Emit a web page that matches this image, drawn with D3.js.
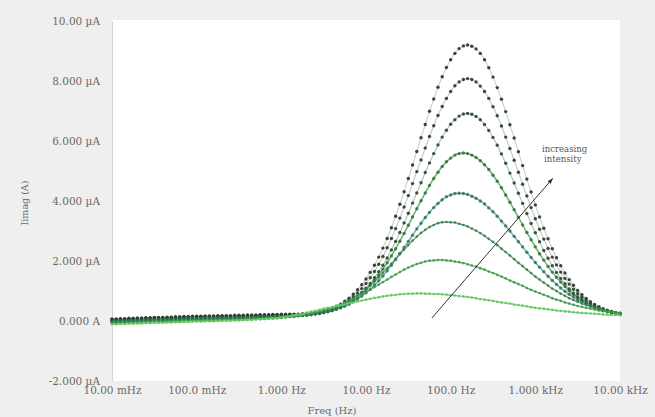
<!DOCTYPE html>
<html><head><meta charset="utf-8">
<script src="https://cdn.jsdelivr.net/npm/d3@7"></script>
<style>
html,body{margin:0;padding:0;background:#efefef;}
svg{display:block;}
</style></head><body>
<svg id="chart" width="655" height="417"></svg>
<script>
// Frequencies (Hz), 20 points per decade
const freqs = [
0.01,0.01122,0.01259,0.01413,0.01585,0.01778,0.01995,0.02239,0.02512,0.02818,0.03162,0.03548,0.03981,0.04467,0.05012,0.05623,0.0631,0.07079,0.07943,0.08913,
0.1,0.1122,0.1259,0.1413,0.1585,0.1778,0.1995,0.2239,0.2512,0.2818,0.3162,0.3548,0.3981,0.4467,0.5012,0.5623,0.631,0.7079,0.7943,0.8913,
1,1.122,1.259,1.413,1.585,1.778,1.995,2.239,2.512,2.818,3.162,3.548,3.981,4.467,5.012,5.623,6.31,7.079,7.943,8.913,
10,11.22,12.59,14.13,15.85,17.78,19.95,22.39,25.12,28.18,31.62,35.48,39.81,44.67,50.12,56.23,63.1,70.79,79.43,89.13,
100,112.2,125.9,141.3,158.5,177.8,199.5,223.9,251.2,281.8,316.2,354.8,398.1,446.7,501.2,562.3,631,707.9,794.3,891.3,
1000,1122,1259,1413,1585,1778,1995,2239,2512,2818,3162,3548,3981,4467,5012,5623,6310,7079,7943,8913,
10000];

// Iimag values in µA, highest intensity first
const s1 = [0.07,0.07,0.08,0.08,0.09,0.09,0.10,0.10,0.11,0.11,
0.12,0.12,0.12,0.13,0.13,0.14,0.14,0.15,0.15,0.16,
0.16,0.16,0.17,0.17,0.17,0.18,0.18,0.18,0.18,0.19,
0.19,0.19,0.20,0.20,0.20,0.21,0.21,0.21,0.22,0.22,
0.23,0.23,0.23,0.23,0.23,0.24,0.24,0.26,0.27,0.29,
0.32,0.37,0.42,0.49,0.56,0.66,0.76,0.89,1.04,1.21,
1.40,1.62,1.86,2.13,2.43,2.75,3.11,3.49,3.89,4.31,
4.75,5.20,5.65,6.11,6.55,6.99,7.40,7.79,8.14,8.45,
8.71,8.92,9.08,9.17,9.20,9.16,9.07,8.92,8.71,8.44,
8.13,7.78,7.39,6.98,6.54,6.10,5.64,5.18,4.73,4.30,
3.87,3.47,3.09,2.74,2.41,2.11,1.84,1.60,1.38,1.19,
1.02,0.88,0.75,0.64,0.55,0.48,0.41,0.36,0.32,0.28,
0.25];
const s2 = [0.05,0.05,0.06,0.06,0.07,0.07,0.08,0.08,0.09,0.09,
0.10,0.10,0.10,0.11,0.11,0.12,0.12,0.13,0.13,0.14,
0.14,0.14,0.15,0.15,0.15,0.16,0.16,0.16,0.16,0.17,
0.17,0.17,0.18,0.18,0.18,0.19,0.19,0.19,0.20,0.20,
0.21,0.21,0.21,0.21,0.22,0.22,0.23,0.24,0.26,0.28,
0.30,0.34,0.39,0.45,0.51,0.60,0.69,0.80,0.93,1.08,
1.25,1.44,1.65,1.89,2.15,2.44,2.75,3.08,3.43,3.80,
4.18,4.58,4.98,5.37,5.77,6.15,6.51,6.85,7.15,7.42,
7.65,7.84,7.97,8.05,8.08,8.05,7.97,7.83,7.65,7.42,
7.14,6.84,6.50,6.13,5.75,5.36,4.96,4.56,4.17,3.78,
3.41,3.06,2.73,2.42,2.13,1.87,1.63,1.42,1.23,1.06,
0.91,0.79,0.68,0.58,0.50,0.44,0.38,0.33,0.30,0.26,
0.24];
const s3 = [0.02,0.02,0.03,0.03,0.04,0.04,0.05,0.05,0.06,0.06,
0.07,0.07,0.07,0.08,0.08,0.09,0.09,0.10,0.10,0.11,
0.11,0.11,0.12,0.12,0.12,0.13,0.13,0.13,0.13,0.14,
0.14,0.14,0.15,0.15,0.15,0.16,0.16,0.16,0.17,0.17,
0.18,0.18,0.18,0.19,0.19,0.20,0.21,0.22,0.24,0.26,
0.28,0.32,0.36,0.41,0.46,0.53,0.61,0.71,0.82,0.95,
1.09,1.25,1.44,1.64,1.86,2.10,2.37,2.65,2.95,3.27,
3.59,3.93,4.27,4.61,4.95,5.27,5.58,5.87,6.13,6.36,
6.56,6.71,6.83,6.90,6.92,6.89,6.82,6.71,6.55,6.35,
6.12,5.86,5.57,5.26,4.93,4.60,4.26,3.92,3.58,3.25,
2.94,2.64,2.35,2.09,1.84,1.62,1.42,1.24,1.07,0.93,
0.80,0.70,0.60,0.52,0.45,0.39,0.35,0.31,0.27,0.25,
0.23];
const s4 = [0.00,0.00,0.01,0.01,0.02,0.02,0.03,0.03,0.04,0.04,
0.05,0.05,0.05,0.06,0.06,0.07,0.07,0.08,0.08,0.09,
0.09,0.09,0.10,0.10,0.10,0.11,0.11,0.11,0.11,0.12,
0.12,0.12,0.13,0.13,0.13,0.14,0.14,0.14,0.15,0.15,
0.16,0.16,0.17,0.17,0.18,0.19,0.20,0.22,0.24,0.26,
0.28,0.32,0.36,0.40,0.46,0.53,0.60,0.69,0.79,0.91,
1.04,1.19,1.35,1.53,1.73,1.94,2.17,2.41,2.66,2.92,
3.19,3.47,3.74,4.01,4.27,4.52,4.75,4.96,5.15,5.31,
5.43,5.53,5.58,5.60,5.58,5.53,5.45,5.34,5.21,5.05,
4.86,4.66,4.44,4.20,3.96,3.71,3.46,3.20,2.95,2.71,
2.47,2.24,2.03,1.82,1.63,1.46,1.30,1.15,1.01,0.89,
0.79,0.69,0.61,0.54,0.47,0.42,0.37,0.33,0.30,0.27,
0.24];
const s5 = [-0.02,-0.02,-0.01,-0.01,0.00,0.00,0.01,0.01,0.02,0.02,
0.03,0.03,0.03,0.04,0.04,0.05,0.05,0.06,0.06,0.07,
0.07,0.07,0.08,0.08,0.08,0.09,0.09,0.09,0.09,0.10,
0.10,0.10,0.11,0.11,0.11,0.12,0.12,0.12,0.13,0.13,
0.14,0.15,0.15,0.16,0.17,0.18,0.19,0.21,0.23,0.25,
0.28,0.31,0.34,0.39,0.44,0.49,0.56,0.64,0.73,0.83,
0.94,1.06,1.20,1.34,1.50,1.67,1.86,2.05,2.25,2.45,
2.65,2.86,3.07,3.26,3.45,3.62,3.78,3.92,4.04,4.14,
4.20,4.25,4.26,4.25,4.22,4.16,4.09,4.00,3.90,3.77,
3.64,3.49,3.33,3.17,3.00,2.82,2.64,2.47,2.29,2.12,
1.95,1.79,1.64,1.49,1.35,1.22,1.10,0.99,0.89,0.80,
0.71,0.64,0.57,0.51,0.46,0.41,0.37,0.33,0.30,0.28,
0.25];
const s6 = [-0.05,-0.05,-0.04,-0.04,-0.03,-0.03,-0.02,-0.02,-0.01,-0.01,
0.00,0.00,0.00,0.01,0.01,0.02,0.02,0.03,0.03,0.04,
0.04,0.04,0.05,0.05,0.05,0.06,0.06,0.06,0.06,0.07,
0.07,0.07,0.08,0.08,0.08,0.09,0.09,0.10,0.10,0.11,
0.12,0.13,0.14,0.15,0.17,0.19,0.21,0.23,0.26,0.29,
0.33,0.37,0.41,0.46,0.52,0.59,0.67,0.75,0.85,0.95,
1.07,1.19,1.32,1.46,1.61,1.76,1.91,2.07,2.23,2.38,
2.53,2.68,2.81,2.94,3.04,3.13,3.20,3.26,3.29,3.30,
3.29,3.28,3.24,3.20,3.15,3.08,3.01,2.93,2.84,2.74,
2.64,2.53,2.41,2.30,2.18,2.06,1.94,1.83,1.71,1.60,
1.48,1.38,1.28,1.18,1.08,1.00,0.91,0.84,0.76,0.70,
0.64,0.58,0.53,0.48,0.44,0.40,0.37,0.34,0.31,0.29,
0.27];
const s7 = [-0.08,-0.08,-0.07,-0.07,-0.06,-0.06,-0.05,-0.05,-0.04,-0.04,
-0.03,-0.03,-0.03,-0.02,-0.02,-0.01,-0.01,0.00,0.00,0.01,
0.01,0.01,0.02,0.02,0.02,0.03,0.03,0.03,0.03,0.04,
0.04,0.04,0.05,0.05,0.06,0.06,0.07,0.08,0.08,0.09,
0.10,0.12,0.14,0.16,0.18,0.20,0.23,0.26,0.30,0.33,
0.37,0.41,0.45,0.50,0.55,0.61,0.67,0.74,0.81,0.88,
0.96,1.04,1.13,1.21,1.30,1.38,1.47,1.55,1.63,1.71,
1.78,1.84,1.90,1.94,1.98,2.01,2.02,2.03,2.03,2.02,
2.01,1.98,1.96,1.93,1.89,1.85,1.81,1.76,1.71,1.65,
1.60,1.54,1.48,1.42,1.35,1.29,1.23,1.17,1.10,1.04,
0.98,0.93,0.87,0.82,0.76,0.71,0.67,0.62,0.58,0.54,
0.50,0.47,0.44,0.41,0.38,0.35,0.33,0.31,0.29,0.27,
0.26];
const s8 = [-0.11,-0.11,-0.10,-0.10,-0.09,-0.09,-0.08,-0.08,-0.07,-0.07,
-0.06,-0.06,-0.06,-0.05,-0.05,-0.04,-0.04,-0.03,-0.03,-0.02,
-0.02,-0.02,-0.01,-0.01,-0.01,0.00,0.00,0.01,0.01,0.02,
0.02,0.03,0.04,0.04,0.05,0.06,0.07,0.08,0.09,0.10,
0.12,0.14,0.16,0.19,0.22,0.24,0.28,0.31,0.34,0.37,
0.41,0.44,0.46,0.49,0.52,0.55,0.59,0.62,0.65,0.68,
0.71,0.74,0.77,0.79,0.82,0.84,0.86,0.87,0.89,0.90,
0.91,0.91,0.92,0.92,0.91,0.91,0.90,0.90,0.89,0.88,
0.86,0.85,0.83,0.82,0.80,0.78,0.76,0.73,0.71,0.69,
0.67,0.64,0.62,0.60,0.58,0.55,0.53,0.51,0.49,0.46,
0.44,0.42,0.41,0.39,0.37,0.35,0.34,0.32,0.31,0.29,
0.28,0.27,0.26,0.25,0.24,0.23,0.22,0.21,0.20,0.20,
0.19];

const seriesValues = [s1, s2, s3, s4, s5, s6, s7, s8];
const seriesColors = ["#2a3a2e","#2a4a30","#2a6635","#33ab3e","#2fa58a","#3f9a58","#47b04b","#74d972"];
const dotColors    = ["#26322a","#28382c","#2a4430","#2d5a36","#2c6050","#3a6a48","#3f8c45","#5cbf5c"];
const lineOpacity  = [0.25, 0.3, 0.4, 0.8, 0.75, 0.8, 0.85, 0.95];

const xTickValues = [0.01, 0.1, 1, 10, 100, 1000, 10000];
const xTickLabels = ["10.00 mHz","100.0 mHz","1.000 Hz","10.00 Hz","100.0 Hz","1.000 kHz","10.00 kHz"];
const yTickValues = [10, 8, 6, 4, 2, 0, -2];
const yTickLabels = ["10.00 µA","8.000 µA","6.000 µA","4.000 µA","2.000 µA","0.000 A","-2.000 µA"];

// annotation (data units: Hz, µA)
const arrowFrom = [60, 0.1];
const arrowTo = [1600, 4.75];
const noteAt = [1200, 5.62];
const noteLines = ["increasing", "intensity"];

const W = 655, H = 417;
const plot = {left: 112, right: 620, top: 21, bottom: 381};
const svg = d3.select("#chart");
const font = "'DejaVu Serif', 'Liberation Serif', serif";

svg.append("rect").attr("width", W).attr("height", H).attr("fill", "#efefef");
svg.append("rect").attr("x", plot.left).attr("y", plot.top - 1)
  .attr("width", plot.right - plot.left).attr("height", plot.bottom - plot.top + 1)
  .attr("fill", "#ffffff");

const x = d3.scaleLog().domain([0.01, 10000]).range([plot.left, plot.right]);
const y = d3.scaleLinear().domain([-2, 10]).range([plot.bottom, plot.top]);

// axes
const yAxis = svg.append("g").attr("transform", `translate(${plot.left},0)`)
  .call(d3.axisLeft(y).tickValues(yTickValues)
    .tickFormat(d => yTickLabels[yTickValues.indexOf(d)]).tickSize(0).tickPadding(12));
yAxis.select(".domain").attr("stroke", "#d6d6d6");
yAxis.selectAll("text").attr("font-family", font).attr("font-size", 10.5).attr("fill", "#6a6a6a");

const xAxis = svg.append("g").attr("transform", `translate(0,${plot.bottom})`)
  .call(d3.axisBottom(x).tickValues(xTickValues)
    .tickFormat(d => xTickLabels[xTickValues.indexOf(d)]).tickSize(0).tickPadding(6));
xAxis.select(".domain").remove();
xAxis.selectAll("text").attr("font-family", font).attr("font-size", 10.5).attr("fill", "#6a6a6a");

svg.append("text").attr("transform", `translate(28,${(plot.top + plot.bottom) / 2 + 2}) rotate(-90)`)
  .attr("text-anchor", "middle").attr("font-family", font).attr("font-size", 9.5)
  .attr("fill", "#6a6a6a").text("Iimag (A)");
svg.append("text").attr("x", 332).attr("y", 414).attr("text-anchor", "middle")
  .attr("font-family", font).attr("font-size", 10).attr("fill", "#6a6a6a").text("Freq (Hz)");

// series: highest intensity drawn first, lighter curves on top
const line = d3.line().x(d => x(d[0])).y(d => y(d[1])).curve(d3.curveMonotoneX);
seriesValues.forEach((vals, si) => {
  const pts = freqs.map((f, i) => [f, vals[i]]);
  const g = svg.append("g");
  g.append("path").datum(pts).attr("d", line).attr("fill", "none")
    .attr("stroke", seriesColors[si]).attr("stroke-width", si < 3 ? 1.1 : 1.5)
    .attr("stroke-opacity", lineOpacity[si]);
  g.selectAll("circle").data(pts).join("circle")
    .attr("cx", d => x(d[0])).attr("cy", d => y(d[1]))
    .attr("r", si < 5 ? 1.7 : 1.35)
    .attr("fill", dotColors[si]).attr("fill-opacity", si < 3 ? 0.9 : 0.75);
});

// annotation arrow
svg.append("defs").append("marker").attr("id", "ah")
  .attr("viewBox", "0 0 10 10").attr("refX", 9).attr("refY", 5)
  .attr("markerWidth", 6).attr("markerHeight", 6).attr("orient", "auto")
  .append("path").attr("d", "M0,1.5 L10,5 L0,8.5 Z").attr("fill", "#333");
svg.append("line")
  .attr("x1", x(arrowFrom[0])).attr("y1", y(arrowFrom[1]))
  .attr("x2", x(arrowTo[0])).attr("y2", y(arrowTo[1]))
  .attr("stroke", "#333").attr("stroke-width", 1).attr("marker-end", "url(#ah)");
const note = svg.append("text").attr("font-family", font).attr("font-size", 8.5).attr("fill", "#555");
noteLines.forEach((t, i) => {
  note.append("tspan").attr("x", x(noteAt[0]) + (i ? 2 : 0)).attr("y", y(noteAt[1]) + i * 10).text(t);
});
</script>
</body></html>
